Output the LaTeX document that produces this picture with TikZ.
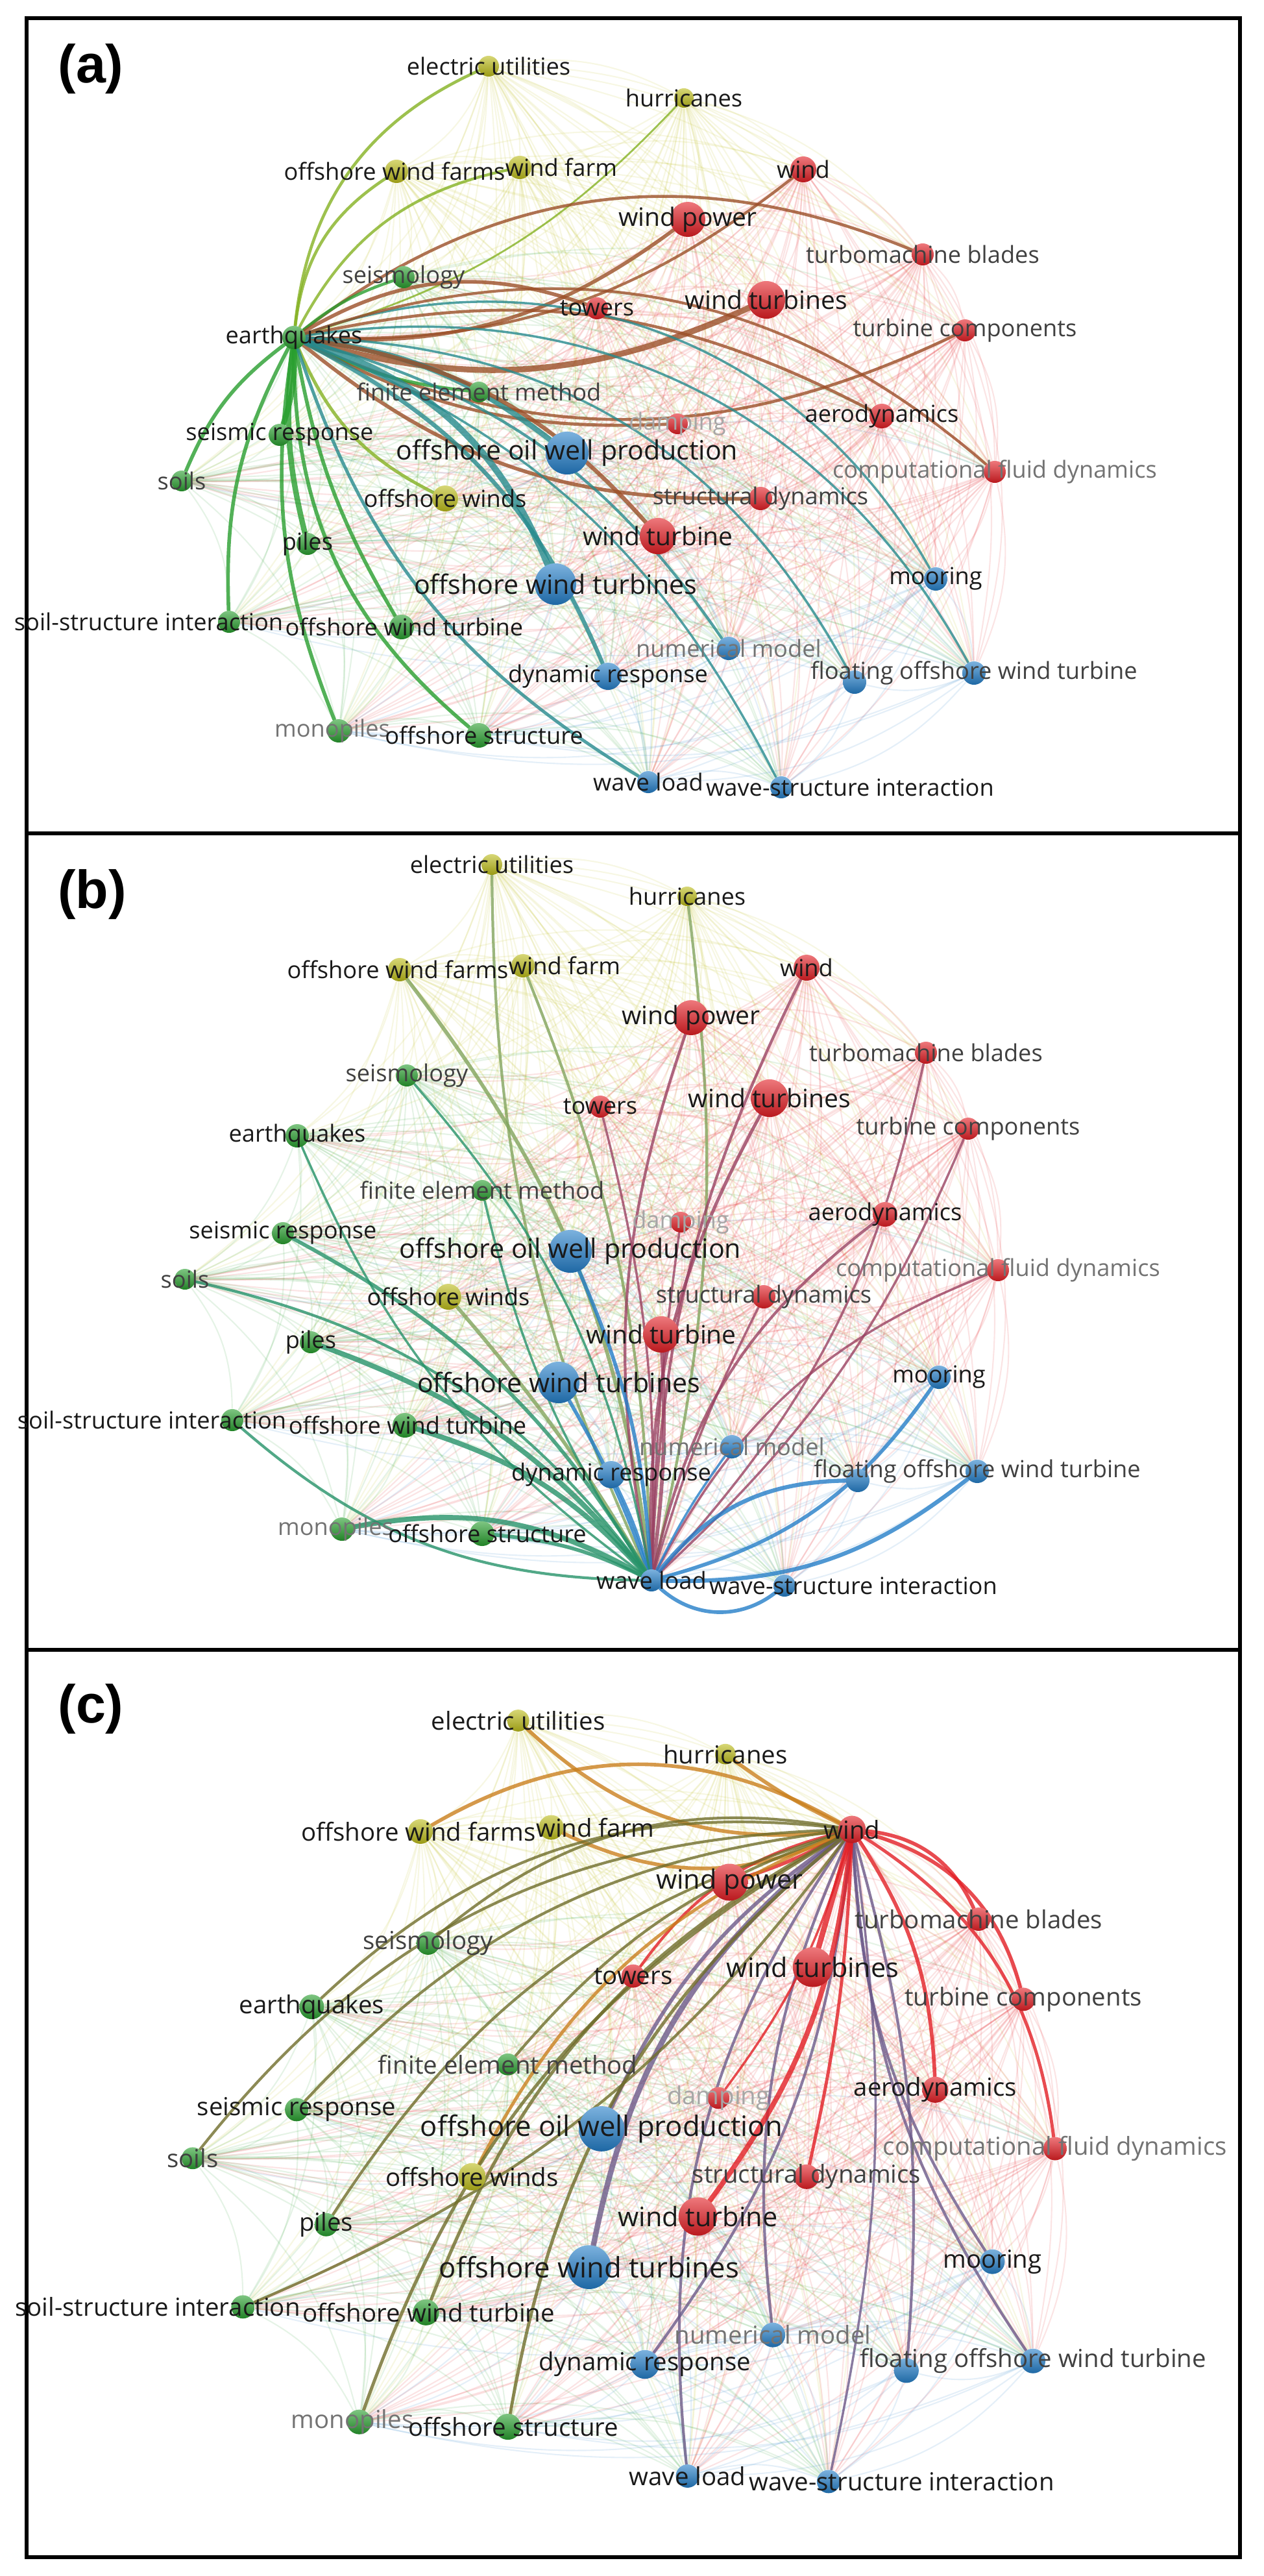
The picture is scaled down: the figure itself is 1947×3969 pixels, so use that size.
\documentclass[tikz,border=0pt]{standalone}
\usepackage{fontspec}
\newfontfamily\vos{Open Sans}
\newfontfamily\tagfont{Liberation Sans}
\definecolor{vred}{RGB}{226,30,36}
\definecolor{vgrn}{RGB}{40,158,46}
\definecolor{vblu}{RGB}{36,126,200}
\definecolor{vyel}{RGB}{188,188,26}
\pgfdeclarelayer{mesh}
\pgfdeclarelayer{links}
\pgfsetlayers{mesh,links,main}

\tikzset{
  kw/.style={circle, inner sep=0pt, top color=#1!60!white, bottom color=#1!82!black},
  lbs/.style={font=\vos\fontsize{10.3}{11}\selectfont, text=black!90, inner sep=0pt},
  lbm/.style={lbs, font=\vos\fontsize{11.1}{12}\selectfont},
  lbl/.style={lbs, font=\vos\fontsize{11.7}{12}\selectfont},
  lbd/.style={lbs, text=black!75},
  lbg/.style={lbs, text=black!55},
  lbf/.style={lbs, text=black!35},
  meshline/.style={line width=0.6pt, opacity=0.12},
  hl/.style={draw opacity=0.8, line cap=round},
  frame/.style={line width=1.5pt},
  tag/.style={font=\tagfont\bfseries\fontsize{23.5}{26}\selectfont},
}

% name/x/y/radius/cluster/label style/label shift/label
\def\kwdata{eu/758/1332/16/vyel/lbs/0/electric utilities,
  hu/1059/1381/15/vyel/lbs/0/hurricanes,
  owf/616/1494/18/vyel/lbs/-3/offshore wind farms,
  wf/806/1488/18/vyel/lbs/64/wind farm,
  wn/1243/1491/20/vred/lbs/0/wind,
  wp/1065/1568/27/vred/lbm/0/wind power,
  tb/1427/1622/17/vred/lbd/0/turbomachine blades,
  se/627/1657/17/vgrn/lbd/0/seismology,
  to/925/1705/17/vred/lbs/0/towers,
  wts/1186/1692/29/vred/lbm/0/wind turbines,
  tc/1492/1739/17/vred/lbd/0/turbine components,
  eq/458/1750/18/vgrn/lbs/0/earthquakes,
  fem/743/1834/16/vgrn/lbd/0/finite element method,
  da/1049/1883/16/vred/lbf/0/damping,
  ae/1364/1871/19/vred/lbs/0/aerodynamics,
  oowp/879/1928/33/vblu/lbl/0/offshore oil well production,
  sr/436/1900/17/vgrn/lbs/0/seismic response,
  cfd/1538/1957/17/vred/lbg/0/computational fluid dynamics,
  so/285/1971/16/vgrn/lbd/0/soils,
  ow/691/1998/20/vyel/lbs/0/offshore winds,
  sd/1177/1998/18/vred/lbd/0/structural dynamics,
  pi/479/2068/17/vgrn/lbs/0/piles,
  wt/1019/2056/28/vred/lbm/0/wind turbine,
  owts/861/2130/32/vblu/lbl/0/offshore wind turbines,
  mo/1447/2122/18/vblu/lbs/0/mooring,
  ssi/358/2188/17/vgrn/lbs/-124/soil-structure interaction,
  owt/624/2196/19/vgrn/lbs/4/offshore wind turbine,
  nm/1128/2229/18/vblu/lbg/0/numerical model,
  dr/942/2272/21/vblu/lbs/0/dynamic response,
  fowt/1506/2267/18/vblu/lbd/0/floating offshore wind turbine,
  fo2/1322/2281/18/vblu/lbs/0/{},
  mp/527/2356/18/vgrn/lbg/-10/monopiles,
  os/743/2363/19/vgrn/lbs/8/offshore structure,
  wl/1004/2435/17/vblu/lbs/0/wave load,
  wsi/1209/2443/17/vblu/lbs/106/wave-structure interaction}

\newcommand\kwnet[1]{%
  \foreach \n/\x/\y/\r/\c/\ls/\dx/\t in \kwdata
    \node[kw=\c, minimum size=\r*0.02cm] (#1-\n) at (\x,\y) {};
  \foreach \n/\x/\y/\r/\c/\ls/\dx/\t in \kwdata
    \node[\ls, xshift=\dx*0.01cm] (#1-\n-t) at (\x,\y) {\t};
  \begin{pgfonlayer}{mesh}
  \foreach \na/\xa/\ya/\ra/\ca/\la/\da/\ta [count=\i] in \kwdata {
    \foreach \nb/\xb/\yb/\rb/\cb/\lb/\db/\tb [count=\j] in \kwdata {
      \ifnum\j>\i\relax \draw[meshline, draw=\ca] (#1-\na) to[bend left=18] (#1-\nb);\fi
    }}
  \end{pgfonlayer}
}

\newcommand\kwlinks[4]{%
  \begin{pgfonlayer}{links}
  \foreach \n/\c/\b/\w in {#4}
    \draw[hl, line width=\w pt, draw=#3!38!\c] (#1-#2) to[bend left=\b] (#1-\n);
  \end{pgfonlayer}
}

\begin{document}
\begin{tikzpicture}[x=0.01cm, y=-0.01cm]
  \useasboundingbox (0,0) rectangle (1947,3969);

  \draw[frame] (41,28) rectangle (1911,1284);
  \draw[frame] (41,1284) rectangle (1911,2542);
  \draw[frame] (41,2542) rectangle (1911,3940);
  \node[tag] (tag-a) at (140,106) {(a)};
  \node[tag] (tag-b) at (142,1378) {(b)};
  \node[tag] (tag-c) at (140,2633) {(c)};

  % (a) earthquakes
  \begin{scope}[shift={(-5,-1230)}]
    \kwnet{a}
    \kwlinks{a}{eq}{vgrn}{eu/vyel/30/1.3, owf/vyel/25/1.3, wf/vyel/25/1.2,
      hu/vyel/-15/0.8, wn/vred/-20/1.2, wp/vred/-20/1.6, tb/vred/30/1.3,
      se/vgrn/10/1.3, to/vred/25/1.6, wts/vred/-20/2.6, tc/vred/-25/1.3,
      fem/vgrn/-10/1.4, da/vred/-15/1.4, ae/vred/20/1.3, oowp/vblu/15/2.4,
      sr/vgrn/10/2.4, so/vgrn/-15/1.6, ow/vyel/-20/1.4, sd/vred/-20/1.6,
      pi/vgrn/-10/2.4, wt/vred/20/1.8, owts/vblu/25/2.8, mo/vblu/40/1.0,
      ssi/vgrn/-15/1.6, owt/vgrn/-10/1.6, nm/vblu/20/1.2, dr/vblu/20/1.8,
      fowt/vblu/35/1.0, fo2/vblu/30/1.0, mp/vgrn/-15/1.6, os/vgrn/-25/1.6,
      wl/vblu/-20/1.4, wsi/vblu/20/1.0, cfd/vred/30/1.2}
  \end{scope}

  % (b) wave load
  \begin{scope}
    \kwnet{b}
    \kwlinks{b}{wl}{vblu}{eu/vyel/12/1.2, owf/vyel/-15/1.6, wf/vyel/-10/1.2,
      hu/vyel/-10/1.2, wn/vred/12/1.2, wp/vred/15/1.2, tb/vred/-15/1.0,
      to/vred/-8/1.0, wts/vred/15/1.4, tc/vred/-12/1.0, ae/vred/20/1.2,
      cfd/vred/20/1.0, sd/vred/5/1.0, da/vred/3/1.0, wt/vred/-5/1.6,
      mo/vblu/-20/1.6, fowt/vblu/-20/1.8, fo2/vblu/25/1.8, wsi/vblu/-40/1.6,
      nm/vblu/5/1.0, dr/vblu/-5/1.2, oowp/vblu/-10/1.6, owts/vblu/-5/1.6,
      ow/vyel/-5/1.6, se/vgrn/-15/1.0, fem/vgrn/10/1.0, eq/vgrn/15/1.0,
      sr/vgrn/-15/1.6, so/vgrn/-20/1.2, pi/vgrn/-15/2.2, ssi/vgrn/20/1.2,
      owt/vgrn/-15/2.2, mp/vgrn/-20/2.2, os/vgrn/-10/1.6}
  \end{scope}

  % (c) wind
  \begin{scope}[shift={(-5.3,1245.3)}, xscale=1.0606, yscale=1.0553, nodes={transform shape}]
    \kwnet{c}
    \kwlinks{c}{wn}{vred}{eu/vyel/25/1.6, hu/vyel/5/1.6, owf/vyel/-30/1.6,
      wf/vyel/25/1.6, wp/vred/5/1.6, tb/vred/30/1.6, tc/vred/30/1.6,
      ae/vred/15/1.6, cfd/vred/25/1.4, mo/vblu/-15/1.2, fowt/vblu/-15/1.2,
      fo2/vblu/10/1.2, wsi/vblu/10/1.0, wl/vblu/-20/1.2, nm/vblu/-15/1.2,
      dr/vblu/15/1.2, owts/vblu/-20/2.4, oowp/vblu/-15/1.6, wt/vred/15/2.2,
      sd/vred/5/1.4, da/vred/10/1.0, to/vred/-20/1.2, wts/vred/0/2.4,
      se/vgrn/-25/1.2, eq/vgrn/-25/1.2, fem/vgrn/-15/1.2, sr/vgrn/-20/1.2,
      so/vgrn/-25/1.2, pi/vgrn/-20/1.2, ssi/vgrn/15/1.2, owt/vgrn/-20/1.4,
      ow/vyel/-20/1.4, mp/vgrn/-20/1.4, os/vgrn/-20/1.4}
  \end{scope}
\end{tikzpicture}
\end{document}
